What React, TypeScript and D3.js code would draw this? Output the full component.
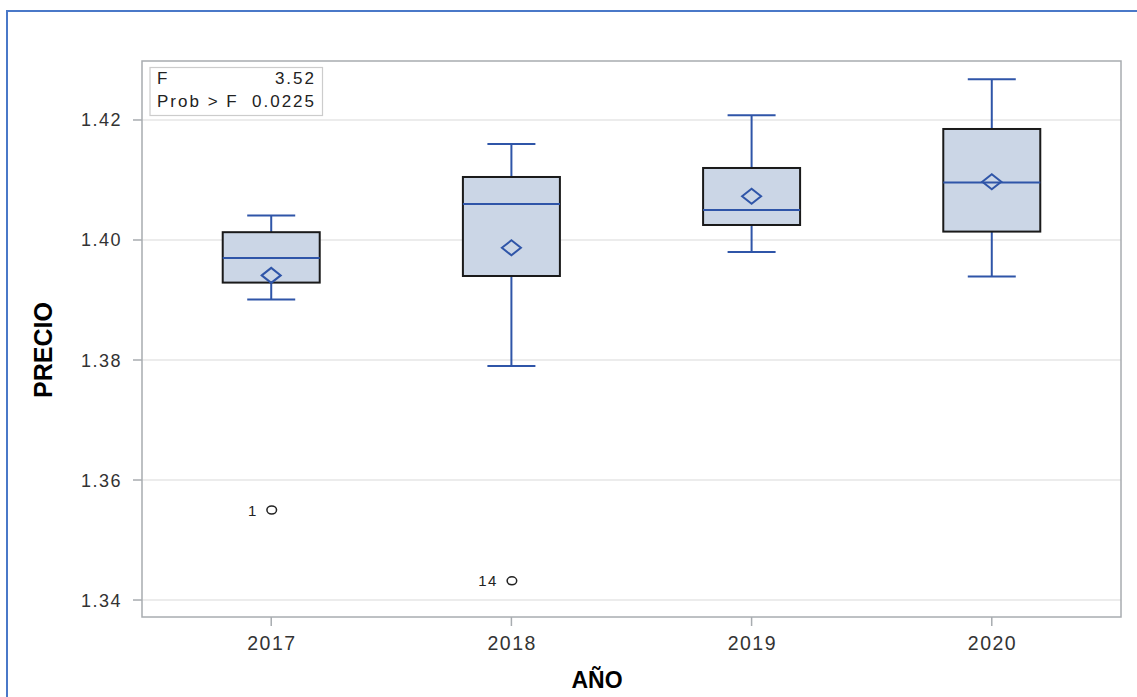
import React from 'react';
import * as d3 from 'd3';

const years = ['2017', '2018', '2019', '2020'];
const minVals = [1.3901, 1.379, 1.398, 1.3939];
const q1Vals = [1.3929, 1.394, 1.4025, 1.4014];
const medianVals = [1.397, 1.406, 1.405, 1.4096];
const q3Vals = [1.4013, 1.4105, 1.412, 1.4185];
const maxVals = [1.4041, 1.416, 1.4208, 1.4268];
const meanVals = [1.3941, 1.3987, 1.4073, 1.4097];
const outlierYears = ['2017', '2018'];
const outlierValues = [1.355, 1.3432];
const outlierLabels = ['1', '14'];
const yTicks = [1.34, 1.36, 1.38, 1.40, 1.42];
const statLabels = ['F', 'Prob > F'];
const statValues = ['3.52', '0.0225'];
const yDomain = [1.33717, 1.42983];

const W = 1137;
const H = 697;
const L = 142, R = 1121, T = 61, B = 617;

const BLUE = '#2f55a8';
const FONT = '"Liberation Sans", Arial, sans-serif';

export default function App() {
  const x = d3.scalePoint<string>().domain(years).range([L, R]).padding(0.538);
  const y = d3.scaleLinear().domain(yDomain).range([B, T]);
  const boxW = 97;
  const capW = 48;
  const dW = 9.5, dH = 7.5;

  return (
    <svg width={W} height={H} style={{ position: 'absolute', left: 0, top: 0, background: '#fff' }}>
      <rect x={0} y={0} width={W} height={H} fill="#fff" />
      <rect x={7} y={11} width={W + 50} height={H + 50} fill="none" stroke="#4a78c8" strokeWidth={2} />

      {/* gridlines */}
      {yTicks.map((t) => (
        <line key={'g' + t} x1={L} x2={R} y1={y(t)} y2={y(t)} stroke="#e6e6e6" strokeWidth={1.5} />
      ))}

      {/* y ticks */}
      {yTicks.map((t) => (
        <g key={'yt' + t}>
          <line x1={L - 9} x2={L} y1={y(t)} y2={y(t)} stroke="#a8acb0" strokeWidth={1.5} />
          <text x={122} y={y(t) + 6.5} textAnchor="end" fontFamily={FONT} fontSize={18}
            letterSpacing={1.5} fill="#333">{t.toFixed(2)}</text>
        </g>
      ))}

      {/* x ticks */}
      {years.map((yr) => (
        <g key={'xt' + yr}>
          <line x1={x(yr)} x2={x(yr)} y1={B} y2={B + 9} stroke="#a8acb0" strokeWidth={1.5} />
          <text x={(x(yr) as number) + 0.75} y={649.5} textAnchor="middle" fontFamily={FONT} fontSize={19.5}
            letterSpacing={1.5} fill="#333">{yr}</text>
        </g>
      ))}

      {/* boxes */}
      {years.map((yr, i) => {
        const cx = x(yr) as number;
        return (
          <g key={'b' + yr}>
            <line x1={cx} x2={cx} y1={y(q3Vals[i])} y2={y(maxVals[i])} stroke={BLUE} strokeWidth={2} />
            <line x1={cx} x2={cx} y1={y(q1Vals[i])} y2={y(minVals[i])} stroke={BLUE} strokeWidth={2} />
            <line x1={cx - capW / 2} x2={cx + capW / 2} y1={y(maxVals[i])} y2={y(maxVals[i])} stroke={BLUE} strokeWidth={2} />
            <line x1={cx - capW / 2} x2={cx + capW / 2} y1={y(minVals[i])} y2={y(minVals[i])} stroke={BLUE} strokeWidth={2} />
            <rect x={cx - boxW / 2} y={y(q3Vals[i])} width={boxW} height={y(q1Vals[i]) - y(q3Vals[i])}
              fill="#cbd6e6" stroke="#1a1a1a" strokeWidth={2} />
            <line x1={cx - boxW / 2} x2={cx + boxW / 2} y1={y(medianVals[i])} y2={y(medianVals[i])} stroke={BLUE} strokeWidth={2} />
            <path
              d={`M${cx - dW},${y(meanVals[i])} L${cx},${y(meanVals[i]) - dH} L${cx + dW},${y(meanVals[i])} L${cx},${y(meanVals[i]) + dH} Z`}
              fill="none" stroke={BLUE} strokeWidth={2} />
          </g>
        );
      })}

      {/* outliers */}
      {outlierYears.map((yr, i) => {
        const cx = (x(yr) as number) + 0.5;
        const cy = y(outlierValues[i]);
        return (
          <g key={'o' + i}>
            <ellipse cx={cx} cy={cy} rx={4.8} ry={4} fill="none" stroke="#222" strokeWidth={1.5} />
            <text x={cx - 14} y={cy + 5.5} textAnchor="end" fontFamily={FONT} fontSize={15}
              letterSpacing={1.5} fill="#222">{outlierLabels[i]}</text>
          </g>
        );
      })}

      {/* frame */}
      <rect x={L} y={T} width={R - L} height={B - T} fill="none" stroke="#a8acb0" strokeWidth={1.5} />

      {/* stats inset */}
      <rect x={150} y={67.5} width={172.5} height={48} fill="#fff" stroke="#cccccc" strokeWidth={1.2} />
      {statLabels.map((s, i) => (
        <g key={'s' + i}>
          <text x={157} y={84 + i * 22.5} fontFamily={FONT} fontSize={17} letterSpacing={2} fill="#222">{s}</text>
          <text x={316} y={84 + i * 22.5} textAnchor="end" fontFamily={FONT} fontSize={17} letterSpacing={2} fill="#222">{statValues[i]}</text>
        </g>
      ))}

      {/* axis titles */}
      <text transform={`translate(51.5,350) rotate(-90)`} textAnchor="middle" fontFamily={FONT}
        fontWeight="bold" fontSize={25} fill="#000">PRECIO</text>
      <text x={597} y={688} textAnchor="middle" fontFamily={FONT} fontWeight="bold" fontSize={23} fill="#000">AÑO</text>
    </svg>
  );
}
